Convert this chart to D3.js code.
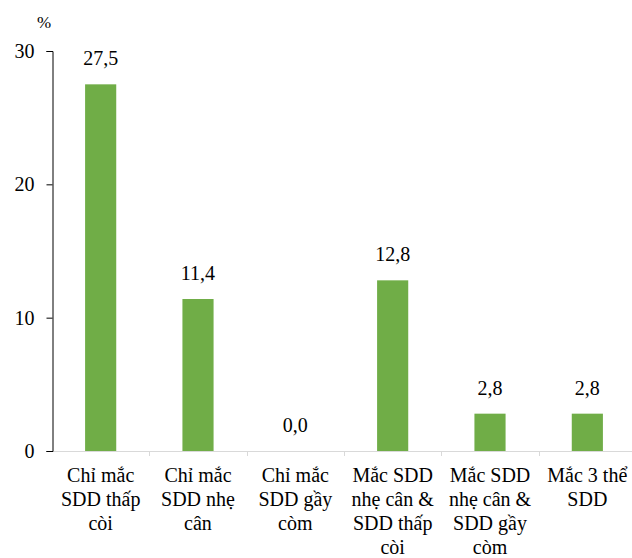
<!DOCTYPE html>
<html>
<head>
<meta charset="utf-8">
<script src="https://cdn.jsdelivr.net/npm/d3@7"></script>
<style>
  html, body { margin: 0; padding: 0; background: #fff; }
</style>
</head>
<body>
<svg id="chart" width="632" height="558" font-family="Liberation Serif"></svg>
<script>
(function(){

const WIDTH = 632, HEIGHT = 558;
const FONT = 'Liberation Serif';

// data
const categories = [
  "Chỉ mắc\nSDD thấp\ncòi",
  "Chỉ mắc\nSDD nhẹ\ncân",
  "Chỉ mắc\nSDD gầy\ncòm",
  "Mắc SDD\nnhẹ cân &\nSDD thấp\ncòi",
  "Mắc SDD\nnhẹ cân &\nSDD gầy\ncòm",
  "Mắc 3 thể\nSDD"
];
const values = [27.5, 11.4, 0.0, 12.8, 2.8, 2.8];
const yTicks = [0, 10, 20, 30];

const margin = {left: 52, top: 51, bottom: 107};
const plotW = 584; // runs slightly past the right edge, as in the source
const y0 = HEIGHT - margin.bottom;

const svg = d3.select('#chart');

const x = d3.scaleBand()
  .domain(categories)
  .range([margin.left, margin.left + plotW])
  .paddingInner(0.68)
  .paddingOuter(0.34);

const y = d3.scaleLinear().domain([0, 30]).range([y0, margin.top]);

// x axis line + boundary ticks
svg.append('line')
  .attr('x1', margin.left).attr('x2', margin.left + plotW)
  .attr('y1', y0 + 0.5).attr('y2', y0 + 0.5)
  .attr('stroke', '#d9d9d9').attr('stroke-width', 1);

const step = x.step();
svg.selectAll('line.xtick')
  .data(d3.range(1, categories.length + 1))
  .join('line')
  .attr('class', 'xtick')
  .attr('x1', i => Math.round(margin.left + i * step) + 0.5)
  .attr('x2', i => Math.round(margin.left + i * step) + 0.5)
  .attr('y1', y0).attr('y2', y0 + 5)
  .attr('stroke', '#d9d9d9');

// bars
svg.selectAll('rect.bar')
  .data(values)
  .join('rect')
  .attr('class', 'bar')
  .attr('x', (d, i) => x(categories[i]))
  .attr('width', x.bandwidth())
  .attr('y', d => y(d))
  .attr('height', d => y(0) - y(d))
  .attr('fill', '#70ad47');

// value labels
svg.selectAll('text.val')
  .data(values)
  .join('text')
  .attr('class', 'val')
  .attr('x', (d, i) => x(categories[i]) + x.bandwidth() / 2)
  .attr('y', d => y(d) - 19)
  .attr('text-anchor', 'middle')
  .attr('font-family', FONT)
  .attr('font-size', 20)
  .attr('fill', '#000')
  .text(d => d.toFixed(1).replace('.', ','));

// y axis
const yAxis = d3.axisLeft(y).tickValues(yTicks).tickSize(6).tickPadding(12);
const gy = svg.append('g')
  .attr('transform', `translate(${margin.left + 0.5},0)`)
  .call(yAxis)
  .attr('font-family', FONT)
  .attr('font-size', 20);
gy.select('.domain').attr('stroke', '#000');
gy.selectAll('.tick line').attr('stroke', '#000');
gy.selectAll('.tick text').attr('fill', '#000');

// unit
svg.append('text')
  .attr('x', 44).attr('y', 28)
  .attr('text-anchor', 'middle')
  .attr('font-family', FONT)
  .attr('font-size', 17)
  .attr('fill', '#000')
  .text('%');

// category labels
svg.selectAll('text.cat')
  .data(categories)
  .join('text')
  .attr('class', 'cat')
  .attr('text-anchor', 'middle')
  .attr('font-family', FONT)
  .attr('font-size', 20)
  .attr('fill', '#000')
  .each(function(d){
    const t = d3.select(this);
    const cx = x(d) + x.bandwidth() / 2;
    d.split('\n').forEach((line, k) => {
      t.append('tspan')
        .attr('x', cx)
        .attr('y', y0 + 31 + k * 24)
        .text(line);
    });
  });

})();
</script>
</body>
</html>
